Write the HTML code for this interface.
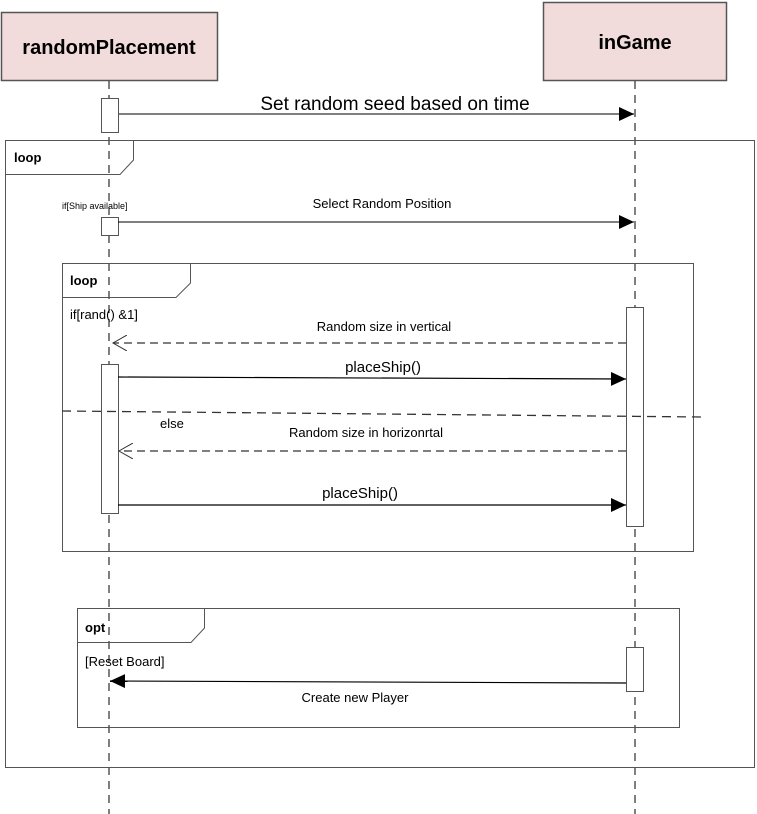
<!DOCTYPE html>
<html><head><meta charset="utf-8"><style>
html,body{margin:0;padding:0;background:#fff;width:757px;height:814px;overflow:hidden}
text{font-family:"Liberation Sans",sans-serif;fill:#000}
</style></head><body>
<svg width="757" height="814" viewBox="0 0 757 814" xmlns="http://www.w3.org/2000/svg">
<defs>
<marker id="f" markerWidth="16" markerHeight="14" refX="15" refY="7" orient="auto" markerUnits="userSpaceOnUse"><path d="M0,0 L15,7 L0,14 Z" fill="#000"/></marker>
<marker id="o" markerWidth="16" markerHeight="16" refX="14" refY="8" orient="auto" markerUnits="userSpaceOnUse"><path d="M0,0 L14,8 L0,16" fill="none" stroke="#333" stroke-width="1"/></marker>
</defs>
<line x1="109" y1="81" x2="109" y2="814" stroke="#000" stroke-dasharray="8,6"/>
<line x1="635" y1="81" x2="635" y2="814" stroke="#000" stroke-dasharray="8,6"/>
<rect x="1.5" y="12.5" width="216" height="68" fill="#f2dcdb" stroke="#555" stroke-width="1.5"/>
<text x="109" y="54" font-size="20" font-weight="bold" text-anchor="middle">randomPlacement</text>
<rect x="543.5" y="2.5" width="183" height="78" fill="#f2dcdb" stroke="#555" stroke-width="1.5"/>
<text x="635" y="49" font-size="20" font-weight="bold" text-anchor="middle">inGame</text>
<rect x="101.5" y="98.5" width="17" height="34" fill="#fff" stroke="#555"/>
<line x1="118" y1="114" x2="634" y2="114" stroke="#555" stroke-width="1.5" marker-end="url(#f)"/>
<text x="395" y="110" font-size="19" text-anchor="middle">Set random seed based on time</text>
<rect x="5.5" y="140.5" width="749" height="627" fill="none" stroke="#555"/>
<path d="M5.5,174.5 H120 L133.5,160 V140.5" fill="none" stroke="#555"/>
<text x="14" y="162" font-size="13" font-weight="bold">loop</text>
<text x="62" y="209" font-size="9">if[Ship available]</text>
<rect x="101.5" y="217.5" width="17" height="18" fill="#fff" stroke="#555"/>
<line x1="118" y1="222" x2="634" y2="222" stroke="#000" marker-end="url(#f)"/>
<text x="382" y="208" font-size="13" text-anchor="middle">Select Random Position</text>
<rect x="62.5" y="263.5" width="631" height="288" fill="none" stroke="#555"/>
<path d="M62.5,297.5 H176 L190.5,283 V263.5" fill="none" stroke="#555"/>
<text x="70" y="285" font-size="13" font-weight="bold">loop</text>
<text x="70" y="319" font-size="13">if[rand() &amp;1]</text>
<rect x="626.5" y="307.5" width="17" height="219" fill="#fff" stroke="#555"/>
<rect x="101.5" y="364.5" width="17" height="149" fill="#fff" stroke="#555"/>
<line x1="626" y1="343" x2="113" y2="343" stroke="#333" stroke-width="1.3" stroke-dasharray="8,5" marker-end="url(#o)"/>
<text x="384" y="331" font-size="13" text-anchor="middle">Random size in vertical</text>
<line x1="118" y1="377" x2="626" y2="379" stroke="#000" stroke-width="1.2" marker-end="url(#f)"/>
<text x="383" y="372" font-size="15" text-anchor="middle">placeShip()</text>
<line x1="62" y1="411" x2="703" y2="417" stroke="#333" stroke-width="1.3" stroke-dasharray="9,6"/>
<text x="160" y="428" font-size="13">else</text>
<line x1="626" y1="451" x2="119" y2="451" stroke="#333" stroke-width="1.3" stroke-dasharray="8,5" marker-end="url(#o)"/>
<text x="366" y="437" font-size="13" text-anchor="middle">Random size in horizonrtal</text>
<line x1="118" y1="505" x2="626" y2="505" stroke="#000" stroke-width="1.2" marker-end="url(#f)"/>
<text x="360" y="498" font-size="15" text-anchor="middle">placeShip()</text>
<rect x="77.5" y="608.5" width="602" height="119" fill="none" stroke="#555"/>
<path d="M77.5,642.5 H191 L204.5,628 V608.5" fill="none" stroke="#555"/>
<text x="85" y="632" font-size="13" font-weight="bold">opt</text>
<text x="85" y="666" font-size="13">[Reset Board]</text>
<rect x="626.5" y="647.5" width="17" height="44" fill="#fff" stroke="#555"/>
<line x1="626" y1="683" x2="110" y2="681" stroke="#000" stroke-width="1.2" marker-end="url(#f)"/>
<text x="355" y="702" font-size="13" text-anchor="middle">Create new Player</text>
</svg>
</body></html>
